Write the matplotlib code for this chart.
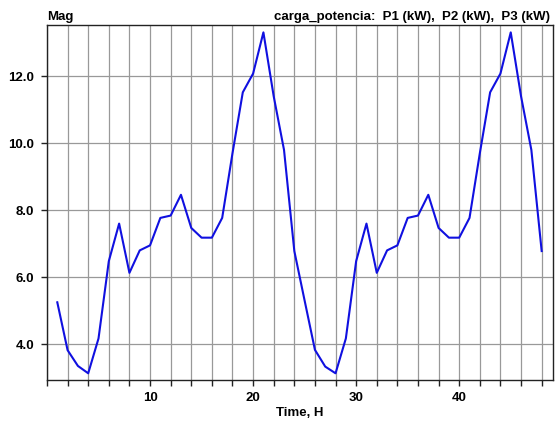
import matplotlib.pyplot as plt
from matplotlib.ticker import MultipleLocator, FormatStrFormatter

plt.rcParams['font.family'] = ['Liberation Sans', 'DejaVu Sans']

# Data
hours = list(range(1, 49))
power = [5.25, 3.82, 3.35, 3.13, 4.17, 6.48, 7.60, 6.13, 6.80, 6.95, 7.77, 7.84,
         8.46, 7.47, 7.18, 7.18, 7.77, 9.70, 11.52, 12.08, 13.31, 11.40, 9.80, 6.78,
         5.30, 3.83, 3.33, 3.13, 4.17, 6.48, 7.60, 6.13, 6.80, 6.95, 7.77, 7.84,
         8.46, 7.47, 7.18, 7.18, 7.77, 9.70, 11.52, 12.08, 13.31, 11.40, 9.80, 6.78]
x_ticks = [10, 20, 30, 40]
y_ticks = [4, 6, 8, 10, 12]

fig = plt.figure(figsize=(5.6, 4.21), dpi=100)
ax = fig.add_axes([0.0839, 0.0974, 0.9036, 0.8432])

# Plot
ax.plot(hours, power, color='#1010e0', linewidth=1.5, zorder=3)

ax.set_xlim(0, 49.1)
ax.set_ylim(2.93, 13.53)

# Grid every 2 hours, labels every 10
ax.xaxis.set_minor_locator(MultipleLocator(2))
ax.set_xticks(x_ticks)
ax.set_yticks(y_ticks)
ax.yaxis.set_major_formatter(FormatStrFormatter('%.1f'))
ax.grid(True, which='both', axis='x', color='#999999', linewidth=0.9)
ax.grid(True, which='major', axis='y', color='#999999', linewidth=0.9)

ax.tick_params(which='both', direction='out', length=4, width=1, color='#222222',
               labelsize=9.5, pad=5)
for lbl in ax.get_xticklabels() + ax.get_yticklabels():
    lbl.set_fontweight('bold')
for s in ax.spines.values():
    s.set_color('#222222')
    s.set_linewidth(1.0)

# Labels
ax.set_xlabel('Time, H', fontsize=9.5, fontweight='bold', labelpad=2)
fig.text(0.0839, 0.945, 'Mag', fontsize=9.5, fontweight='bold', ha='left', va='bottom')
fig.text(0.983, 0.945, 'carga_potencia:  P1 (kW),  P2 (kW),  P3 (kW)',
         fontsize=9.5, fontweight='bold', ha='right', va='bottom')

plt.savefig('out.png', dpi=100)
